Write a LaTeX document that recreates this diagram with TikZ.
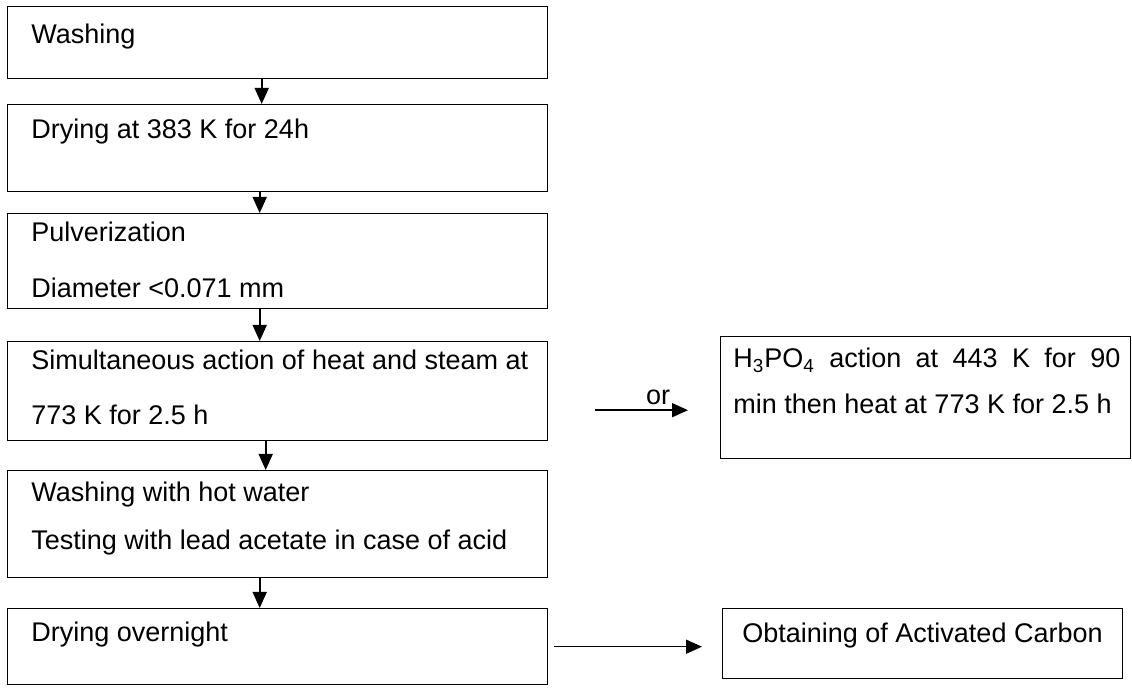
\documentclass[tikz,border=0pt]{standalone}
\usepackage{fontspec}
\setmainfont{Liberation Sans}
\usetikzlibrary{arrows.meta,calc}
\begin{document}
\begin{tikzpicture}[x=0.5pt,y=-0.5pt,
  stepbox/.style={draw=black, line width=0.7pt, inner sep=0pt, anchor=north west},
  lbl/.style={anchor=base west, inner sep=0pt, font=\fontsize{13.5pt}{16pt}\selectfont},
  arr/.style={draw=black, line width=0.8pt, -{Triangle[length=8pt,width=7pt]}}]
\useasboundingbox (0,0) rectangle (1132,689);
% left column boxes
\node[stepbox, minimum width=270pt, minimum height=36pt] (b1) at (7,6) {};
\node[stepbox, minimum width=270pt, minimum height=43.5pt] (b2) at (7,104) {};
\node[stepbox, minimum width=270pt, minimum height=47.5pt] (b3) at (7,213) {};
\node[stepbox, minimum width=270pt, minimum height=49.5pt] (b4) at (7,341) {};
\node[stepbox, minimum width=270pt, minimum height=53.5pt] (b5) at (7,470) {};
\node[stepbox, minimum width=270pt, minimum height=38pt] (b6) at (7,608) {};
% right boxes
\node[stepbox, minimum width=205pt, minimum height=61pt] (r1) at (720,336) {};
\node[stepbox, minimum width=200pt, minimum height=35pt] (r2) at (722,608) {};
% texts
\node[lbl] (t1) at (31,44) {Washing};
\node[lbl] (t2) at (31,139) {Drying at 383 K for 24h};
\node[lbl] (t3a) at (31,242) {Pulverization};
\node[lbl] (t3b) at (31,298) {Diameter <0.071 mm};
\node[lbl] (t4a) at (31,370) {Simultaneous action of heat and steam at};
\node[lbl] (t4b) at (31,425) {773 K for 2.5 h};
\node[lbl] (t5a) at (31,502) {Washing with hot water};
\node[lbl] (t5b) at (31,550) {Testing with lead acetate in case of acid};
\node[lbl] (t6) at (31,642) {Drying overnight};
\node[lbl] (tr1a) at (733,368) {\makebox[193.5pt][s]{H\textsubscript{3}PO\textsubscript{4} action at 443 K for 90}};
\node[lbl] (tr1b) at (733,414) {min then heat at 773 K for 2.5 h};
\node[lbl] (tr2) at (742,643) {Obtaining of Activated Carbon};
% vertical connectors
\draw[arr] ([xshift=-8pt]b1.south) -- ([xshift=-8pt]b2.north);
\draw[arr] ([xshift=-9pt]b2.south) -- ([xshift=-9pt]b3.north);
\draw[arr] ([xshift=-9pt]b3.south) -- ([xshift=-9pt]b4.north);
\draw[arr] ([xshift=-6pt]b4.south) -- ([xshift=-6pt]b5.north);
\draw[arr] ([xshift=-9pt]b5.south) -- ([xshift=-9pt]b6.north);
% horizontal connectors
\coordinate (orstart) at ($(b4.east)+(0,19)$);
\draw[arr, shorten <=23.5pt, shorten >=16pt] (orstart) -- node[pos=0.64, above=2.5pt, inner sep=0pt, font=\fontsize{13.5pt}{16pt}\selectfont] (orl) {or} (orstart -| r1.west);
\draw[arr, shorten <=3pt, shorten >=10pt] (b6.east) -- (b6.east -| r2.west);
\end{tikzpicture}
\end{document}
